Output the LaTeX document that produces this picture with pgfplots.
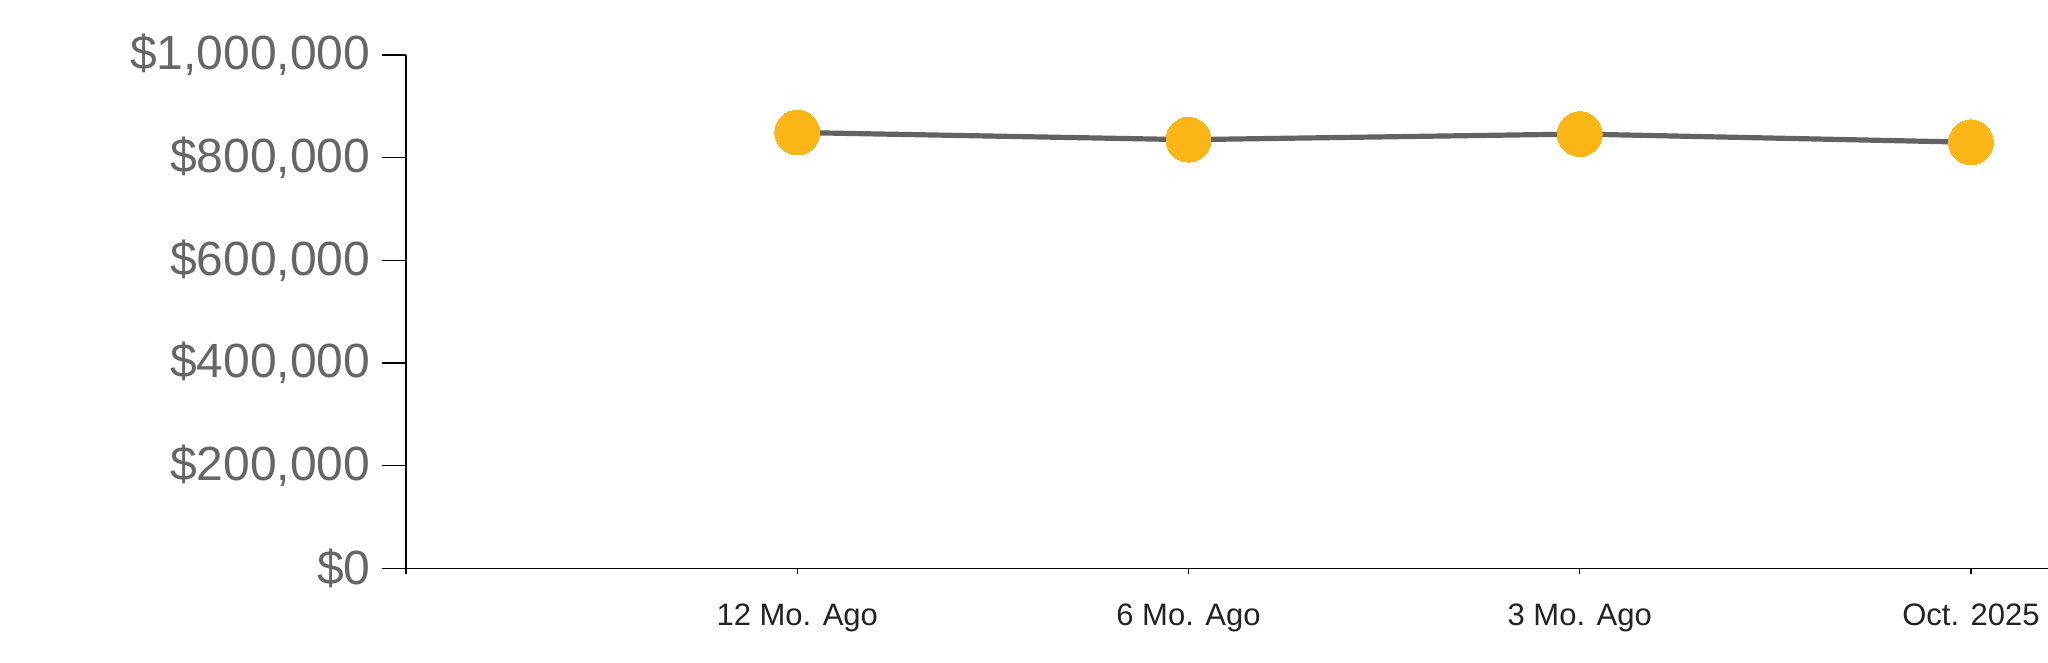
\documentclass[border=0pt]{standalone}
\usepackage{pgfplots}
\pgfplotsset{compat=1.18}
\usepackage{fontspec}
\setmainfont{Liberation Sans}
\definecolor{ylab}{HTML}{666666}
\definecolor{xlab}{HTML}{222222}
\definecolor{linec}{HTML}{636363}
\definecolor{dotc}{HTML}{FBB516}
\begin{document}
\begin{tikzpicture}
\begin{axis}[
  at={(0,0)}, anchor=south west,
  scale only axis,
  width=821pt, height=256.65pt,
  xmin=0, xmax=4.197,
  ymin=0, ymax=1000000,
  axis lines=left,
  axis line style={-, black, line width=0.6pt},
  clip=false,
  xtick={0,1,2,3,4},
  xticklabels={,12 Mo. Ago,6 Mo. Ago,3 Mo. Ago,Oct. 2025},
  ytick={0,200000,400000,600000,800000,1000000},
  yticklabels={{\$0},{\$200,000},{\$400,000},{\$600,000},{\$800,000},{\$1,000,000}},
  tick align=outside,
  tick style={black, line width=0.6pt},
  xtick style={/pgfplots/major tick length=3pt},
  ytick style={/pgfplots/major tick length=12pt},
  yticklabel style={font=\fontsize{24}{26}\selectfont, text=ylab, xshift=-10pt},
  xticklabel style={font=\fontsize{15.5}{18}\selectfont, text=xlab, yshift=-10pt},
  scaled y ticks=false,
]
\addplot[color=linec, line width=2.6pt, mark=*, mark size=11.2pt,
  mark options={fill=dotc, draw=dotc, line width=0pt}]
  coordinates {(1,849000) (2,835000) (3,846000) (4,830000)};
\end{axis}
\pgfresetboundingbox
\path[use as bounding box] (-203pt,-47.35pt) rectangle (821pt,284.15pt);
\end{tikzpicture}
\end{document}
